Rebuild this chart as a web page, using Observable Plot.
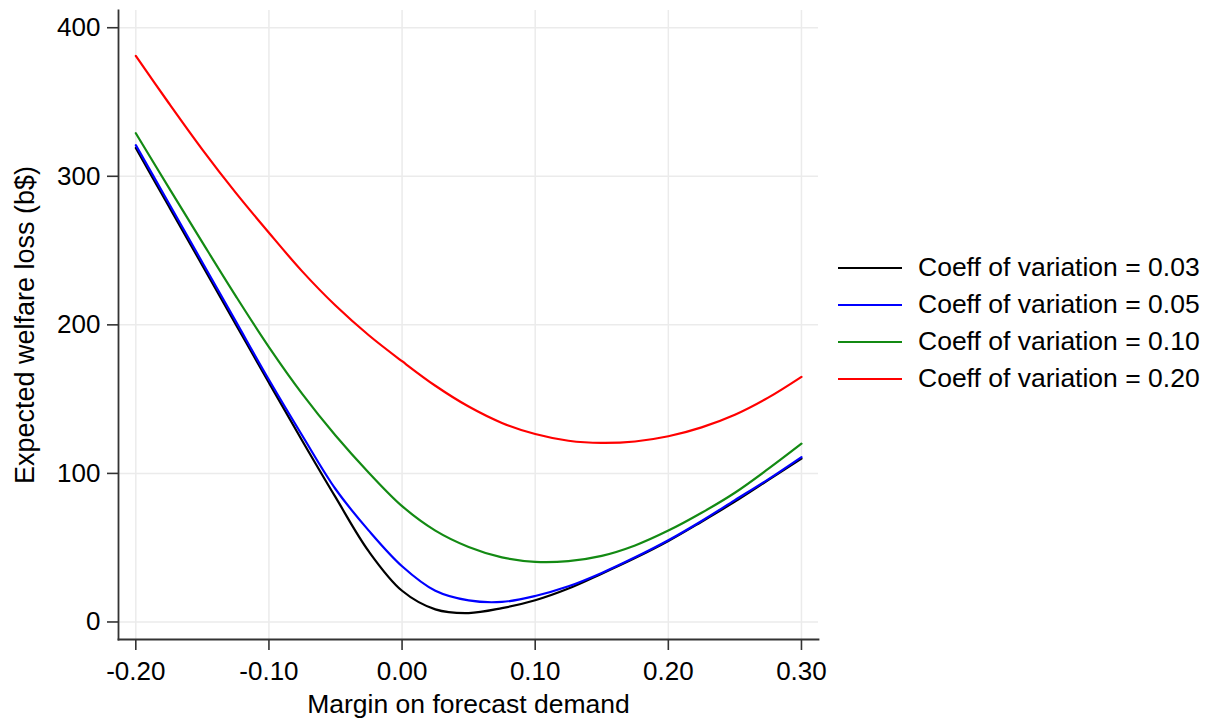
<!DOCTYPE html>
<html>
<head>
<meta charset="utf-8">
<script src="https://cdn.jsdelivr.net/npm/d3@7"></script>
<script src="https://cdn.jsdelivr.net/npm/@observablehq/plot@0.6"></script>
<style>
  html, body { margin: 0; padding: 0; background: #fff; }
  #wrap { position: relative; width: 1209px; height: 720px; font-family: "Liberation Sans", Arial, sans-serif; }
  #chart { position: absolute; left: 0; top: 0; }
  #legend { position: absolute; left: 838px; top: 249px; font-size: 26.5px; color: #000; }
  .row { display: flex; align-items: center; height: 37px; white-space: nowrap; }
  .sw { width: 64px; height: 2px; margin-right: 16px; }
</style>
</head>
<body>
<div id="wrap">
  <div id="chart"></div>
  <div id="legend"></div>
</div>
<script>
// ---- data ----
const margin = [-0.2, -0.175, -0.15, -0.125, -0.1, -0.075, -0.05, -0.025, 0,
  0.025, 0.05, 0.075, 0.1, 0.125, 0.15, 0.175, 0.2, 0.225, 0.25, 0.275, 0.3];
const cv003 = [319, 279.5, 240, 200.5, 161, 122, 84, 47.5, 21,
  8.5, 6, 9.3, 14.6, 22.5, 32.5, 43, 54.5, 67.5, 81, 95.5, 110];
const cv005 = [321, 281.5, 242, 202.5, 163, 125.5, 89.5, 61.5, 37.5,
  21, 14.5, 13.5, 17.5, 24, 33, 43.5, 55, 68, 82, 96, 111];
const cv010 = [329, 292, 255.5, 219.5, 185, 153.5, 125.5, 100.5, 78,
  61.5, 50.5, 43.5, 40.5, 41, 44.5, 51.5, 61.5, 73.5, 87, 103, 120];
const cv020 = [381, 349, 318, 289, 262, 236, 213, 193, 175.5,
  159, 145, 134, 126.5, 122, 120.5, 121.5, 125, 131, 139.5, 151, 165];
const seriesLabels = ["Coeff of variation = 0.03", "Coeff of variation = 0.05",
  "Coeff of variation = 0.10", "Coeff of variation = 0.20"];
const xTicks = [-0.2, -0.1, 0, 0.1, 0.2, 0.3];
const yTicks = [0, 100, 200, 300, 400];
const xTitle = "Margin on forecast demand";
const yTitle = "Expected welfare loss (b$)";

// ---- styling config ----
const seriesColors = ["#000000", "#0000ff", "#138a13", "#ff0000"];
const FONT = "'Liberation Sans', Arial, sans-serif";

const seriesValues = [cv003, cv005, cv010, cv020];
const rows = seriesValues.flatMap((vals, s) =>
  margin.map((m, i) => ({x: m, y: vals[i], series: seriesLabels[s]})));

const chart = Plot.plot({
  width: 830,
  height: 720,
  marginLeft: 118,
  marginRight: 12,
  marginTop: 10,
  marginBottom: 81,
  style: {fontSize: "26px", fontFamily: FONT, color: "#000", background: "transparent"},
  x: {domain: [-0.213, 0.3128]},
  y: {domain: [-11.8, 411.6]},
  color: {domain: seriesLabels, range: seriesColors},
  marks: [
    Plot.gridX(xTicks, {stroke: "#ebebeb", strokeOpacity: 1, strokeWidth: 1.5}),
    Plot.gridY(yTicks, {stroke: "#ebebeb", strokeOpacity: 1, strokeWidth: 1.5}),
    Plot.axisX(xTicks, {tickSize: 11, tickPadding: 11, tickFormat: d => d.toFixed(2),
      label: null, stroke: "#333", strokeWidth: 1.6, fill: "#000", fontSize: 26}),
    Plot.axisY(yTicks, {tickSize: 11, tickPadding: 7, tickFormat: d => String(d),
      label: null, stroke: "#333", strokeWidth: 1.6, fill: "#000", fontSize: 26}),
    Plot.frame({anchor: "left", stroke: "#333", strokeWidth: 1.8}),
    Plot.frame({anchor: "bottom", stroke: "#333", strokeWidth: 1.8}),
    Plot.line(rows, {x: "x", y: "y", z: "series", stroke: "series", strokeWidth: 2.2, curve: "catmull-rom"}),
    Plot.text([xTitle], {frameAnchor: "bottom", dy: 73, fontSize: 26.5, fill: "#000", textAnchor: "middle"}),
    Plot.text([yTitle], {frameAnchor: "left", dx: -93, rotate: -90, fontSize: 27, fill: "#000", textAnchor: "middle"})
  ]
});
document.getElementById("chart").appendChild(chart);

const legend = document.getElementById("legend");
seriesLabels.forEach((lab, i) => {
  const row = document.createElement("div");
  row.className = "row";
  const sw = document.createElement("span");
  sw.className = "sw";
  sw.style.background = seriesColors[i];
  const t = document.createElement("span");
  t.textContent = lab;
  row.appendChild(sw);
  row.appendChild(t);
  legend.appendChild(row);
});
</script>
</body>
</html>
